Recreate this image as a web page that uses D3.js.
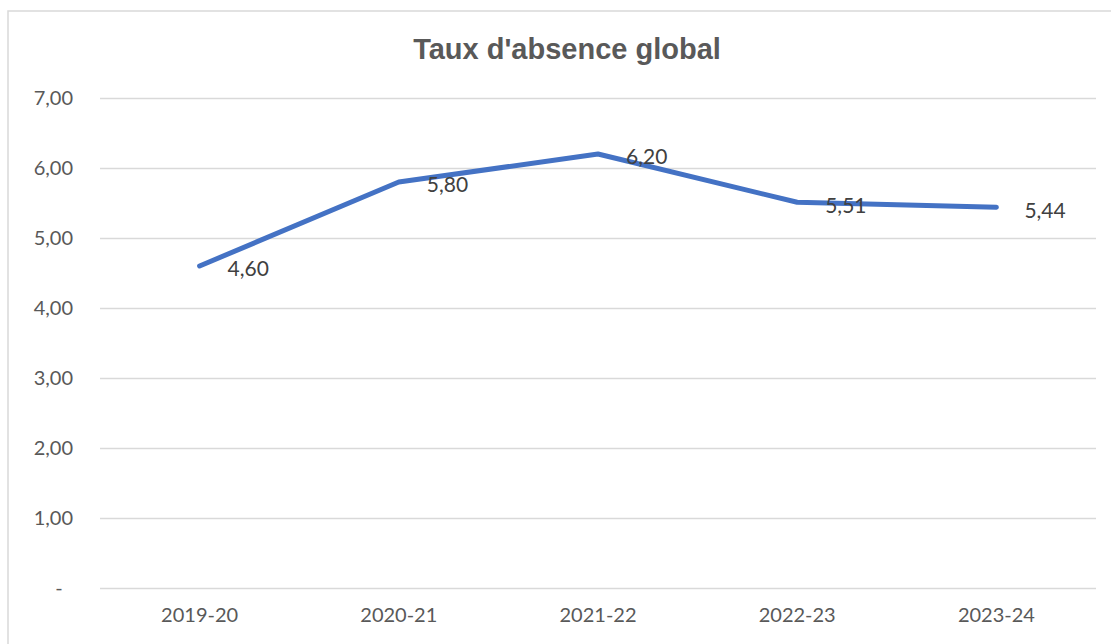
<!DOCTYPE html>
<html><head><meta charset="utf-8">
<script src="https://cdn.jsdelivr.net/npm/d3@7"></script>
<style>
html,body{margin:0;padding:0;background:#fff;}
svg{display:block;}
</style></head>
<body>
<svg id="chart" width="1111" height="644"></svg>
<script>
const categories = ["2019-20","2020-21","2021-22","2022-23","2023-24"];
const values = [4.60, 5.80, 6.20, 5.51, 5.44];
const yTicks = [0,1,2,3,4,5,6,7];
const title = "Taux d'absence global";

const svg = d3.select("#chart");
const W = 1111, H = 644;
const m = {left:100, right:15, top:98, bottom:56};

svg.append("rect").attr("x",8).attr("y",11).attr("width",1120).attr("height",660)
  .attr("fill","#fff").attr("stroke","#d9d9d9").attr("stroke-width",1.5);

const x = d3.scaleBand().domain(categories).range([m.left, W-m.right]);
const y = d3.scaleLinear().domain([0,7]).range([H-m.bottom, m.top]);
const fmt = v => v===0 ? "-" : d3.format(".2f")(v).replace(".",",");

// gridlines
svg.append("g").selectAll("line").data(yTicks).join("line")
  .attr("x1",m.left).attr("x2",W-m.right)
  .attr("y1",d=>Math.round(y(d))+0.5).attr("y2",d=>Math.round(y(d))+0.5)
  .attr("stroke","#d9d9d9").attr("stroke-width",1.3);

// y axis
const ya = svg.append("g").attr("transform",`translate(${m.left},0)`)
  .call(d3.axisLeft(y).tickValues(yTicks).tickFormat(fmt).tickSize(0).tickPadding(27));
ya.select(".domain").remove();
ya.selectAll("text").attr("fill","#595959").style("font-family","Lato, 'Open Sans', sans-serif").style("font-size","20px");
ya.selectAll(".tick").filter(d=>d===0).select("text").attr("x",-41).attr("text-anchor","middle");

// x axis
const xa = svg.append("g").attr("transform",`translate(0,${H-m.bottom})`)
  .call(d3.axisBottom(x).tickSize(0).tickPadding(20));
xa.select(".domain").remove();
xa.selectAll("text").attr("fill","#595959").style("font-family","Lato, 'Open Sans', sans-serif").style("font-size","20px");

// line
const line = d3.line().x((d,i)=>x(categories[i])+x.bandwidth()/2).y(d=>y(d));
svg.append("path").datum(values).attr("d",line)
  .attr("fill","none").attr("stroke","#4472C4").attr("stroke-width",5)
  .attr("stroke-linecap","round").attr("stroke-linejoin","round");

// labels
svg.append("g").selectAll("text").data(values).join("text")
  .attr("x",(d,i)=>x(categories[i])+x.bandwidth()/2+28)
  .attr("y",d=>y(d)+3).attr("dy","0.35em")
  .attr("fill","#404040").style("font-family","Lato, 'Open Sans', sans-serif").style("font-size","21px")
  .text(d=>fmt(d));

// title
svg.append("text").attr("x",567).attr("y",59).attr("text-anchor","middle")
  .attr("fill","#595959").style("font-family","'Liberation Sans', Arial, sans-serif")
  .style("font-size","29px").style("font-weight","bold").text(title);
</script>
</body></html>
